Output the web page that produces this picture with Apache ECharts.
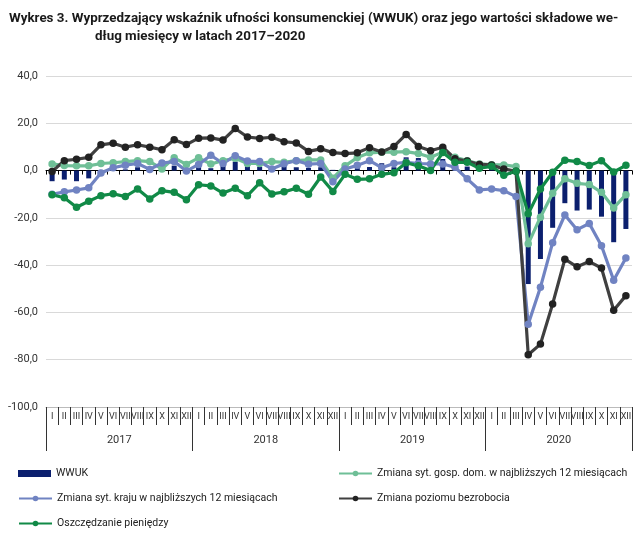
<!DOCTYPE html>
<html><head><meta charset="utf-8">
<script src="https://cdn.jsdelivr.net/npm/echarts@6/dist/echarts.min.js"></script>
<style>html,body{margin:0;padding:0;background:#fff}#c{width:640px;height:536px}</style>
</head><body><div id="c"></div>
<script>
const months = ['I','II','III','IV','V','VI','VII','VIII','IX','X','XI','XII'];
const years = ['2017','2018','2019','2020'];
const categories = [];
years.forEach(y => months.forEach(m => categories.push(m + ' ' + y)));
const monthLabels = [];
years.forEach(() => months.forEach(m => monthLabels.push(m)));
const yTicks = [40, 20, 0, -20, -40, -60, -80, -100];

const wwuk = [
  -4.5, -3.8, -4.5, -3.3, -0.5, 0.5, 0.5, 1.4, 0.5, 0.3, 2.1, 0.5,
  2.0, 1.0, 2.2, 3.8, 1.8, 1.6, 1.0, 1.9, 1.4, 1.1, 1.4, 0.3,
  0.5, 1.0, 1.5, 3.1, 1.4, 5.6, 5.3, 1.0, 4.9, 1.5, 1.7, 0.5,
  0.8, -0.3, -1.0, -48.0, -37.4, -24.2, -13.8, -16.9, -16.5, -19.5, -30.3, -24.7
];
const gospDom = [
  2.8, 2.1, 2.0, 2.0, 3.0, 3.3, 3.8, 4.2, 3.8, 0.7, 5.4, 2.6,
  5.4, 2.8, 4.2, 5.2, 3.0, 3.0, 3.8, 3.5, 4.2, 4.5, 4.5, -3.2,
  2.0, 5.5, 7.5, 7.8, 7.8, 8.0, 7.2, 5.6, 7.8, 5.6, 4.2, 2.8,
  2.5, 2.4, 1.7, -31.0, -19.7, -9.6, -3.5, -5.4, -5.9, -9.2, -15.8, -10.2
];
const kraj = [
  -10.0, -9.0, -8.2, -7.3, -1.0, 1.2, 2.3, 3.0, 0.5, 3.2, 3.8, -0.2,
  2.6, 6.5, 3.0, 6.3, 4.0, 3.8, 0.7, 2.9, 4.2, 2.7, 3.0, -4.7,
  0.7, 2.2, 4.2, 1.2, 3.0, 3.5, 3.0, 2.8, 2.8, 1.4, -3.5, -8.2,
  -7.8, -8.5, -11.0, -65.0, -49.4, -30.5, -18.8, -25.0, -22.4, -31.8, -46.4, -37.0
];
const bezrobocie = [
  -0.4, 4.2, 4.8, 5.6, 10.9, 11.6, 9.9, 10.9, 9.9, 8.8, 13.0, 11.0,
  13.7, 13.8, 12.9, 17.8, 14.2, 13.6, 14.1, 12.2, 11.7, 8.1, 9.2, 7.6,
  7.2, 7.5, 9.7, 7.9, 10.2, 15.3, 10.2, 8.4, 9.9, 5.0, 4.0, 2.6,
  2.4, 0.7, -0.3, -77.9, -73.4, -56.4, -37.5, -40.7, -38.5, -41.2, -59.1, -52.9
];
const oszczedzanie = [
  -10.2, -11.5, -15.5, -13.0, -10.6, -9.8, -11.0, -7.8, -12.0, -8.5, -9.2, -12.3,
  -6.0, -6.5, -9.5, -7.5, -10.6, -5.2, -9.9, -9.0, -7.5, -10.0, -2.7, -8.8,
  -1.6, -3.7, -3.5, -1.6, -0.9, 3.3, 2.0, 0.0, 7.6, 3.5, 3.5, 1.0,
  1.8, -2.0, -0.3, -18.3, -7.8, -0.7, 4.4, 3.8, 2.1, 4.2, -0.6, 2.2
];

const names = {
  wwuk: 'WWUK',
  gosp: 'Zmiana syt. gosp. dom. w najbliższych 12 miesiącach',
  kraj: 'Zmiana syt. kraju w najbliższych 12 miesiącach',
  bezr: 'Zmiana poziomu bezrobocia',
  osz: 'Oszczędzanie pieniędzy'
};
const FONT = "'Roboto', 'Noto Sans', sans-serif";

function lineSeries(name, data, color, symColor) {
  return {
    name, type: 'line', data, xAxisIndex: 0, yAxisIndex: 0,
    symbol: 'circle', symbolSize: 7.5,
    lineStyle: { color, width: 3.2 },
    itemStyle: { color: symColor || color },
    emphasis: { disabled: true }
  };
}
function leg(item, left, centerY) {
  return { orient: 'horizontal', left, top: centerY - 7, padding: 0,
    itemWidth: 33, itemHeight: 7,
    textStyle: { fontSize: 10.5, color: '#222', fontFamily: FONT },
    data: [item] };
}

const chart = echarts.init(document.getElementById('c'), null, { renderer: 'canvas' });
chart.setOption({
  animation: false,
  backgroundColor: '#fff',
  textStyle: { fontFamily: FONT },
  title: [
    { text: 'Wykres 3. Wyprzedzający wskaźnik ufności konsumenckiej (WWUK) oraz jego wartości składowe we-',
      left: 4, top: 7, textStyle: { fontSize: 13.4, fontWeight: 'bold', color: '#1a1a1a', fontFamily: FONT } },
    { text: 'dług miesięcy w latach 2017–2020',
      left: 90, top: 25, textStyle: { fontSize: 13.4, fontWeight: 'bold', color: '#1a1a1a', fontFamily: FONT } }
  ],
  grid: { left: 46, right: 8, top: 76, bottom: 129 },
  legend: [
    leg({ name: names.wwuk, icon: 'rect' }, 18, 475),
    leg(names.kraj, 18, 500),
    leg(names.osz, 18, 525),
    leg(names.gosp, 338, 475),
    leg(names.bezr, 338, 500)
  ],
  xAxis: [
    { type: 'category', data: categories, position: 'bottom',
      axisLine: { onZero: true, lineStyle: { color: '#000', width: 1 } },
      axisTick: { show: true, length: 4, interval: 0, lineStyle: { color: '#000' } },
      axisLabel: { show: false }, splitLine: { show: false } },
    { type: 'category', data: monthLabels, position: 'bottom',
      axisLine: { onZero: false, lineStyle: { color: '#bbb' } },
      axisTick: { show: true, length: 18, interval: 0, lineStyle: { color: '#333' } },
      axisLabel: { interval: 0, margin: 5, fontSize: 9, color: '#333', fontFamily: FONT },
      splitLine: { show: false } },
    { type: 'category', data: years, position: 'bottom',
      axisLine: { show: false, onZero: false },
      axisTick: { show: true, length: 44, interval: 0, lineStyle: { color: '#333' } },
      axisLabel: { interval: 0, margin: 28, fontSize: 11, color: '#333', fontFamily: FONT },
      splitLine: { show: false } }
  ],
  yAxis: {
    type: 'value', min: -100, max: 40, interval: 20,
    axisLine: { show: false }, axisTick: { show: false },
    axisLabel: { margin: 8, fontSize: 11, color: '#333', fontFamily: FONT,
      formatter: v => yTicks.includes(v) ? v.toFixed(1).replace('.', ',') : '' },
    splitLine: { lineStyle: { color: '#d9d9d9', width: 1 } }
  },
  series: [
    { name: names.wwuk, type: 'bar', data: wwuk, barWidth: 5, xAxisIndex: 0,
      itemStyle: { color: '#0b1f6e' }, emphasis: { disabled: true } },
    lineSeries(names.gosp, gospDom, '#6fbf97'),
    lineSeries(names.kraj, kraj, '#7083c2'),
    lineSeries(names.bezr, bezrobocie, '#404040', '#222'),
    lineSeries(names.osz, oszczedzanie, '#118a47')
  ]
});
</script></body></html>
